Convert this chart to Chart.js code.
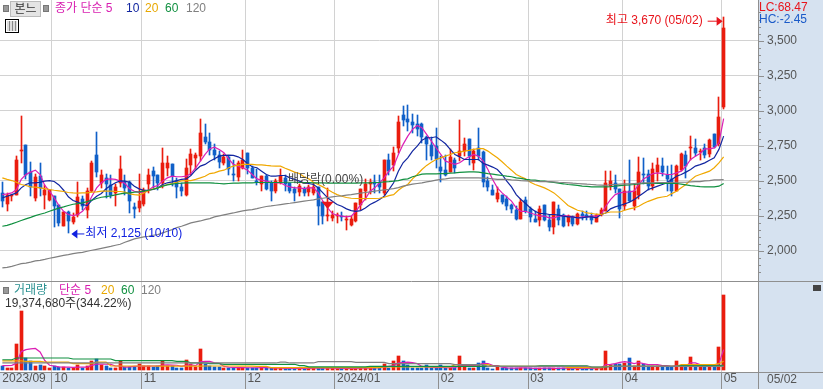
<!DOCTYPE html>
<html>
<head>
<meta charset="utf-8">
<script src="https://cdn.jsdelivr.net/npm/chart.js@4"></script>
<style>
  html, body { margin: 0; padding: 0; background: #fff; overflow: hidden; }
  #wrap { position: relative; width: 823px; height: 389px; font: 12px "Liberation Sans", "Noto Sans CJK KR", sans-serif; }
  canvas { position: absolute; left: 0; display: block; }
  #priceChart { top: 0; }
  #volChart { top: 281px; }
  .t { position: absolute; line-height: 14px; white-space: pre; }
  .sq { position: absolute; width: 4px; height: 5px; background: #999; border: 1px solid #777; }
  #btn { position: absolute; left: 10px; top: 1px; width: 29px; height: 14px; background: #e4e4e4; border: 1px solid #bbb; text-align: center; line-height: 14px; color: #333; }
  #tbl { position: absolute; left: 5px; top: 19px; width: 10px; height: 10px; border: 1px solid #000; padding: 1px;
         background: repeating-linear-gradient(90deg, #888 0 1px, #ddd 1px 3px); background-clip: content-box; outline: 0; }
  #zoomBox { position: absolute; left: 813px; top: 285px; width: 8px; height: 6px; background: #444; }
</style>
</head>
<body>
<div id="wrap">
  <canvas id="priceChart" width="823" height="281"></canvas>
  <canvas id="volChart" width="823" height="108"></canvas>

  <div class="sq" style="left:3px;top:5px"></div>
  <div id="btn">본느</div>
  <div class="sq" style="left:43px;top:5px"></div>
  <div id="tbl"></div>
  <div class="t" style="left:55px;top:1px;color:#d81eb0">종가 단순 5</div>
  <div class="t" style="left:126px;top:1px;color:#1226a0">10</div>
  <div class="t" style="left:145px;top:1px;color:#e8a800">20</div>
  <div class="t" style="left:165px;top:1px;color:#109040">60</div>
  <div class="t" style="left:186px;top:1px;color:#808080">120</div>
  <div class="t" style="left:759px;top:0px;color:#e8141c">LC:68.47</div>
  <div class="t" style="left:759px;top:12px;color:#1a5ac8">HC:-2.45</div>

  <div class="sq" style="left:3px;top:287px"></div>
  <div class="t" style="left:14px;top:283px;color:#2a9090">거래량</div>
  <div class="t" style="left:59px;top:283px;color:#d81eb0">단순 5</div>
  <div class="t" style="left:101px;top:283px;color:#e8a800">20</div>
  <div class="t" style="left:121px;top:283px;color:#109040">60</div>
  <div class="t" style="left:141px;top:283px;color:#808080">120</div>
  <div class="t" style="left:5px;top:296px;color:#333">19,374,680주(344.22%)</div>
  <div class="t" style="left:767px;top:372px;color:#555">05/02</div>
  <div id="zoomBox"></div>
</div>

<script>
// categories: one slot per trading day, the last few are empty space on the right
const slotCount = 161;
const monthStarts = [0, 11, 30, 52, 71, 93, 112, 132, 153];
const monthLabels = ["2023/09", "10", "11", "12", "2024/01", "02", "03", "04", "05"];

// candles
const opens = [
  2414,2338,2393,2402,2710,2752,2562,2381,2538,2402,
  2360,2390,2326,2176,2281,2205,2260,2371,2295,2426,
  2681,2481,2517,2467,2410,2486,2493,2493,2312,2307,
  2338,2474,2569,2545,2481,2593,2617,2498,2457,2402,
  2610,2660,2676,2814,2779,2717,2681,2624,2671,2552,
  2526,2588,2700,2593,2502,2474,2538,2481,2426,2490,
  2521,2481,2445,2419,2445,2419,2410,2457,2348,2250,
  2238,2248,2250,2219,2188,2212,2326,2426,2474,2493,
  2486,2410,2645,2612,2736,2967,2938,2921,2902,2902,
  2814,2752,2748,2600,2574,2562,2648,2676,2712,2795,
  2624,2736,2705,2498,2433,2374,2398,2374,2329,2295,
  2231,2362,2300,2231,2219,2329,2224,2169,2302,2260,
  2205,2243,2195,2267,2255,2252,2205,2264,2283,2466,
  2481,2443,2324,2431,2324,2402,2547,2552,2462,2566,
  2605,2545,2516,2426,2574,2683,2731,2736,2709,2731,
  2693,2831,2759,3026
];
const highs = [
  2490,2414,2402,2676,2962,2752,2633,2552,2629,2467,
  2438,2390,2331,2281,2283,2271,2495,2390,2450,2638,
  2850,2576,2550,2545,2474,2676,2545,2498,2343,2552,
  2450,2581,2600,2545,2731,2676,2617,2521,2486,2657,
  2729,2700,2938,2902,2843,2760,2712,2688,2676,2652,
  2640,2717,2700,2605,2581,2538,2545,2498,2510,2581,
  2545,2486,2455,2474,2455,2467,2486,2457,2348,2450,
  2283,2271,2279,2248,2252,2343,2443,2510,2510,2545,
  2545,2652,2688,2740,2962,3033,3038,2974,2967,2914,
  2819,2814,2879,2676,2681,2724,2664,2931,2807,2795,
  2729,2879,2712,2529,2467,2455,2402,2390,2338,2319,
  2367,2386,2314,2288,2324,2329,2260,2352,2331,2264,
  2260,2248,2271,2283,2283,2271,2267,2307,2569,2569,
  2545,2443,2509,2652,2474,2669,2664,2576,2628,2664,
  2664,2609,2616,2612,2695,2712,2819,2795,2724,2766,
  2795,2831,3095,3670
];
const lows = [
  2312,2288,2355,2402,2624,2510,2390,2355,2390,2300,
  2355,2169,2176,2176,2125,2195,2240,2295,2233,2419,
  2526,2450,2379,2379,2324,2457,2402,2271,2236,2276,
  2324,2414,2443,2438,2450,2533,2462,2379,2390,2395,
  2545,2581,2640,2764,2681,2648,2588,2612,2541,2498,
  2502,2581,2552,2521,2467,2426,2438,2355,2410,2474,
  2426,2414,2355,2390,2395,2395,2398,2188,2195,2212,
  2217,2200,2212,2152,2181,2205,2295,2362,2407,2414,
  2414,2402,2545,2569,2695,2890,2855,2843,2819,2771,
  2648,2648,2593,2490,2533,2562,2557,2640,2676,2612,
  2576,2652,2457,2426,2398,2348,2338,2295,2271,2219,
  2231,2271,2205,2205,2176,2212,2141,2124,2188,2171,
  2176,2181,2188,2219,2224,2195,2205,2252,2283,2438,
  2414,2235,2290,2347,2290,2374,2474,2433,2438,2497,
  2533,2426,2390,2426,2569,2521,2647,2676,2647,2664,
  2671,2736,2748,3010
];
const closes = [
  2355,2402,2400,2645,2717,2545,2457,2524,2452,2433,
  2433,2324,2200,2281,2217,2243,2386,2324,2431,2629,
  2562,2545,2474,2402,2457,2586,2450,2355,2302,2355,
  2433,2545,2538,2481,2624,2624,2533,2455,2426,2593,
  2693,2681,2838,2776,2717,2681,2633,2671,2581,2540,
  2624,2645,2593,2521,2493,2538,2445,2426,2502,2538,
  2474,2426,2410,2462,2410,2457,2457,2319,2252,2260,
  2260,2255,2243,2231,2231,2343,2443,2479,2493,2474,
  2455,2645,2569,2700,2919,2933,2919,2898,2871,2812,
  2760,2676,2657,2569,2545,2669,2593,2710,2764,2676,
  2712,2676,2490,2455,2402,2410,2348,2324,2302,2231,
  2350,2283,2243,2205,2302,2219,2171,2352,2224,2181,
  2248,2195,2267,2250,2243,2219,2255,2295,2486,2502,
  2445,2302,2431,2355,2431,2566,2540,2462,2581,2616,
  2562,2516,2426,2605,2688,2609,2740,2695,2716,2681,
  2793,2740,2957,3588
];

// price moving averages
const ma5 = [
  2402,2407,2414,2438,2510,2545,2562,2576,2545,2467,
  2426,2378,2324,2283,2260,2252,2260,2283,2324,2390,
  2450,2486,2510,2514,2510,2498,2481,2443,2426,2419,
  2414,2433,2457,2467,2498,2521,2533,2529,2529,2533,
  2552,2593,2640,2688,2729,2740,2724,2700,2657,2617,
  2605,2593,2576,2545,2514,2505,2498,2490,2486,2486,
  2467,2457,2450,2450,2445,2450,2450,2414,2355,2307,
  2267,2255,2248,2243,2248,2283,2331,2371,2426,2450,
  2486,2521,2569,2605,2688,2760,2819,2867,2895,2879,
  2831,2783,2736,2688,2640,2629,2617,2629,2652,2671,
  2688,2676,2640,2581,2510,2450,2414,2386,2355,2307,
  2283,2283,2271,2260,2248,2248,2236,2236,2248,2252,
  2248,2243,2236,2243,2243,2248,2248,2260,2319,2366,
  2402,2414,2419,2421,2426,2474,2514,2533,2552,2557,
  2552,2545,2545,2557,2569,2605,2652,2676,2695,2728,
  2728,2735,2771,2943
];
const ma10 = [
  2379,2390,2402,2414,2450,2474,2486,2486,2490,2498,
  2502,2495,2471,2433,2386,2360,2348,2331,2324,2362,
  2390,2410,2443,2467,2486,2500,2498,2490,2462,2443,
  2433,2433,2438,2450,2474,2486,2493,2502,2510,2514,
  2538,2576,2605,2617,2640,2657,2676,2681,2683,2681,
  2671,2652,2624,2600,2593,2569,2545,2533,2533,2538,
  2538,2521,2510,2498,2486,2481,2474,2450,2414,2379,
  2355,2331,2319,2300,2288,2283,2288,2307,2331,2348,
  2367,2390,2438,2486,2569,2629,2664,2712,2748,2790,
  2807,2807,2814,2790,2764,2724,2688,2671,2652,2652,
  2652,2652,2624,2612,2598,2581,2545,2498,2457,2402,
  2367,2338,2307,2283,2267,2267,2260,2260,2255,2248,
  2243,2243,2236,2236,2243,2243,2236,2260,2271,2300,
  2314,2324,2336,2347,2366,2390,2414,2438,2450,2462,
  2474,2486,2509,2533,2545,2562,2581,2605,2616,2628,
  2647,2664,2724,2819
];
const ma20 = [
  2521,2510,2502,2490,2474,2467,2457,2455,2450,2445,
  2438,2433,2429,2424,2417,2414,2412,2414,2414,2419,
  2421,2426,2426,2426,2424,2424,2419,2407,2402,2398,
  2414,2431,2443,2450,2462,2474,2481,2490,2500,2502,
  2502,2510,2521,2533,2552,2557,2569,2576,2593,2605,
  2612,2617,2617,2617,2614,2614,2610,2607,2605,2605,
  2590,2576,2562,2552,2529,2514,2490,2474,2457,2438,
  2419,2402,2390,2381,2376,2374,2374,2374,2374,2374,
  2376,2383,2395,2402,2433,2457,2474,2514,2545,2581,
  2610,2633,2652,2664,2676,2688,2700,2705,2712,2717,
  2724,2729,2729,2712,2688,2664,2636,2605,2576,2545,
  2529,2514,2490,2474,2462,2450,2433,2414,2386,2355,
  2324,2307,2290,2283,2271,2267,2262,2260,2271,2278,
  2278,2278,2290,2300,2307,2319,2338,2354,2366,2378,
  2385,2390,2409,2426,2450,2474,2505,2533,2545,2557,
  2569,2593,2628,2671
];
const ma60 = [
  2176,2183,2193,2205,2217,2229,2240,2252,2262,2271,
  2283,2295,2305,2314,2324,2333,2338,2343,2352,2362,
  2374,2383,2388,2393,2400,2407,2412,2414,2419,2421,
  2426,2433,2440,2450,2462,2471,2476,2481,2483,2486,
  2486,2486,2486,2486,2486,2483,2481,2479,2481,2483,
  2483,2486,2486,2486,2488,2488,2488,2488,2488,2488,
  2490,2490,2490,2488,2488,2488,2486,2486,2486,2483,
  2483,2483,2483,2483,2483,2483,2486,2486,2486,2488,
  2488,2493,2495,2498,2502,2510,2514,2529,2538,2548,
  2550,2550,2550,2552,2552,2555,2557,2560,2562,2564,
  2564,2562,2557,2552,2548,2543,2538,2533,2529,2521,
  2517,2510,2507,2505,2500,2498,2493,2488,2483,2479,
  2474,2471,2467,2462,2460,2457,2457,2457,2457,2459,
  2462,2466,2469,2471,2474,2478,2481,2481,2481,2481,
  2481,2481,2481,2481,2476,2471,2466,2462,2459,2457,
  2457,2457,2462,2481
];
const ma120 = [
  1879,1883,1890,1900,1910,1914,1921,1929,1933,1940,
  1948,1955,1962,1969,1974,1981,1986,1990,1998,2005,
  2012,2019,2026,2033,2041,2048,2062,2074,2086,2093,
  2100,2105,2112,2117,2129,2141,2152,2167,2176,2188,
  2200,2207,2214,2224,2231,2243,2250,2257,2264,2271,
  2279,2286,2291,2295,2302,2310,2317,2321,2326,2331,
  2336,2340,2345,2350,2355,2360,2364,2371,2376,2381,
  2386,2390,2393,2398,2402,2407,2412,2417,2421,2426,
  2431,2436,2440,2445,2452,2462,2469,2476,2481,2486,
  2493,2498,2505,2510,2514,2519,2521,2521,2521,2521,
  2521,2521,2519,2517,2514,2510,2510,2510,2507,2505,
  2502,2500,2498,2498,2495,2495,2495,2493,2490,2488,
  2486,2483,2481,2479,2476,2474,2471,2469,2467,2474,
  2474,2476,2478,2478,2481,2483,2486,2486,2486,2488,
  2488,2488,2488,2490,2490,2490,2493,2495,2495,2500,
  2502,2507,2507,2509
];

// volume in thousands of shares
const volumes = [
  1030,600,600,6670,15130,3250,2390,1030,1280,1030,
  600,1030,855,855,600,680,1370,680,1030,2390,
  2820,1370,1030,600,600,2310,855,855,855,1710,
  1030,1030,855,1030,2390,1110,1030,680,680,2565,
  1540,770,5390,1540,1030,855,770,680,600,680,
  680,680,600,680,680,855,600,600,550,600,
  500,550,600,550,500,600,550,700,650,600,
  550,600,500,550,600,500,550,650,600,550,
  600,1710,510,2310,3590,2310,1280,680,680,680,
  1280,600,600,1280,600,600,680,3590,855,680,
  680,1970,2310,680,430,1030,600,650,600,600,
  680,600,600,550,650,600,600,650,700,600,
  600,550,650,600,600,550,600,650,4870,1450,
  1710,1540,1880,3080,1030,2310,1540,1030,1030,1200,
  860,860,860,2310,1110,860,3330,860,800,800,
  900,800,5900,19375
];
const volMa5 = [
  1200,1200,1280,1800,4800,5300,5500,5600,4700,2500,
  1300,1100,900,800,800,750,800,800,800,1250,
  1600,1600,1550,1500,1100,1100,800,900,1000,1050,
  1050,1050,1100,1100,1350,1400,1350,1300,1000,1250,
  1400,1200,2200,2300,2300,1900,1800,1000,800,750,
  700,680,650,650,650,700,700,600,550,520,
  500,500,500,520,500,500,520,550,600,550,
  520,500,520,500,500,500,520,550,550,600,
  650,800,1000,1200,1900,2000,2100,2000,1700,1000,
  900,800,700,800,700,650,650,1200,1200,1200,
  1200,1400,1800,1700,1300,1200,800,600,550,550,
  600,600,550,500,500,550,550,500,500,550,
  550,500,500,500,500,500,550,600,1450,1500,
  1700,2050,2200,2050,1700,2000,1700,1450,1450,1450,
  1200,1200,1030,1200,1200,1200,1880,1880,1500,1030,
  1030,1030,1700,5300
];
const volMa20 = [
  2400,2400,2400,2400,2400,2300,2300,2300,2300,2100,
  2100,2100,2100,2100,2100,1700,1700,1700,1700,1700,
  2100,2100,2100,1100,1100,1100,1100,1100,1100,1100,
  1100,1100,1100,1050,1050,1050,1050,1050,1050,1050,
  1050,1050,1050,1100,1100,1100,1100,1100,1100,1100,
  1050,1050,1050,1050,1000,1000,1000,700,700,700,
  700,700,700,700,700,700,700,700,700,700,
  700,700,700,700,700,700,700,700,700,700,
  700,850,850,850,850,850,850,850,850,850,
  850,850,850,850,850,850,1450,1450,1450,1450,
  1450,1450,1450,1450,1000,1000,1000,1000,1000,1000,
  1000,1000,1000,1000,1000,1000,1000,1000,1000,1000,
  680,680,680,680,680,680,680,680,1000,1000,
  1000,1000,1000,1000,1000,1000,1000,1000,1000,1000,
  1000,1000,1000,1000,1450,1450,1450,1450,1450,1450,
  1450,1450,1700,2300
];
const volMa60 = [
  2700,2700,2700,3150,3150,3150,3150,3150,3150,3150,
  3150,3150,3150,3150,3150,2900,2900,2900,2900,2900,
  2900,2900,2900,2900,2480,2480,2480,2480,2480,2480,
  2480,2480,2480,2480,2480,2480,2480,2300,2300,2300,
  1900,1900,1900,1900,1700,1700,1700,1540,1540,1540,
  1540,1540,1540,1540,1540,1540,1540,1540,1540,1540,
  1540,1540,1540,1200,1200,900,900,900,900,900,
  900,900,900,900,900,900,900,900,1000,1000,
  1000,1000,1000,1000,1000,1000,1000,1000,1000,1000,
  1000,1000,1000,1000,1000,1000,1000,1000,1000,1000,
  1000,1000,1000,1000,1000,1000,1000,1000,1000,1000,
  1000,1000,1000,1000,1150,1150,1150,1150,1150,1150,
  1150,1150,1150,1150,1150,850,850,850,850,1030,
  1030,1030,1030,1030,1030,1030,1030,1030,1030,1030,
  1030,1030,1030,1030,1200,1200,1200,1200,1200,1200,
  1200,1200,1200,1300
];
const volMa120 = [
  1880,1880,1880,1880,1880,1880,1880,1880,1880,1880,
  1880,1880,1880,1880,1880,1880,1880,1880,1880,1880,
  1880,1880,1880,1880,1880,1880,1880,1880,1880,1880,
  1880,1880,1880,1880,1880,1880,1880,1880,1880,1880,
  1880,1880,1880,1880,1880,1880,1880,1880,1880,1880,
  1880,1880,1880,1880,1880,1880,1880,1880,1880,2100,
  2100,1880,1880,1880,1880,1880,1880,2200,2200,2200,
  2200,2200,2200,2200,2200,2050,2050,2050,2050,2050,
  2050,2050,1710,1710,1710,1710,1710,1710,1710,1710,
  1710,1710,1710,1710,1710,1710,1450,1450,1450,1450,
  1450,1450,1450,1030,1030,1030,1030,1030,1030,1030,
  1030,1030,1030,1030,1030,1030,1030,1030,1030,1030,
  1030,1030,1030,1030,1030,850,850,850,850,1030,
  1030,1030,1030,1030,1030,1030,1030,1030,1030,1030,
  1030,1030,1030,1030,1030,1030,1030,1030,1030,1030,
  1030,1030,1030,1030
];

// annotations
const highNote = { text: "최고 3,670 (05/02)", index: 153, value: 3670 };
const lowNote = { text: "최저 2,125 (10/10)", index: 14, value: 2125 };
const exNote = { text: "배당락(0.00%)", index: 69, value: 2330 };

const UP = "#ea1c0e";
const DOWN = "#1060c8";
const GRID = "#d2d2d2";
const AXIS = "#8f8f8f";
const PANEL = "#d6e2f0";
const FONT = '"Liberation Sans", "Noto Sans CJK KR", sans-serif';
const PLOT_RIGHT = 758;

const slots = [];
for (let i = 0; i < slotCount; i++) slots.push(i);

const candleColors = closes.map((c, i) => (c >= opens[i] ? UP : DOWN));

function isMonthLine(i) {
  return i > 0 && monthStarts.includes(i);
}

function lineSet(data, color) {
  return { type: "line", data: data, borderColor: color, borderWidth: 1.2, pointRadius: 0, tension: 0, order: 1 };
}

// y axis sits flush, no room kept for half a tick label
function fitYAxis(s) {
  s.width = 64;
  s.paddingTop = 0;
  s.paddingBottom = 0;
}

// line the bars up on whole pixels so they stay crisp
const snapBars = {
  id: "snapBars",
  beforeDatasetsDraw(chart) {
    chart.data.datasets.forEach((ds, k) => {
      if (ds.type === "line") return;
      chart.getDatasetMeta(k).data.forEach((bar) => {
        bar.x = Math.floor(bar.x) + 0.5;
        const top = Math.round(bar.y);
        let base = Math.round(bar.base);
        if (Math.abs(base - top) < 1) base = top + 1;
        bar.y = top;
        bar.base = base;
      });
    });
  }
};

// paints the blue axis panels, the axis border and its tick marks
function frame(bandHeight, majorStep, minorStep) {
  return {
    id: "frame",
    beforeDraw(chart) {
      const ctx = chart.ctx;
      ctx.save();
      ctx.fillStyle = PANEL;
      ctx.fillRect(PLOT_RIGHT, 0, chart.width - PLOT_RIGHT, chart.height);
      if (bandHeight) ctx.fillRect(0, chart.height - bandHeight, chart.width, bandHeight);
      ctx.restore();
    },
    afterDraw(chart) {
      const ctx = chart.ctx;
      const y = chart.scales.y;
      ctx.save();
      ctx.strokeStyle = AXIS;
      ctx.lineWidth = 1;
      ctx.beginPath();
      ctx.moveTo(PLOT_RIGHT + 0.5, 0);
      ctx.lineTo(PLOT_RIGHT + 0.5, chart.height);
      y.ticks.forEach((t) => {
        if (t.value % minorStep !== 0) return;
        const py = Math.round(y.getPixelForValue(t.value)) + 0.5;
        ctx.moveTo(PLOT_RIGHT, py);
        ctx.lineTo(PLOT_RIGHT + (t.value % majorStep === 0 ? 6 : 3), py);
      });
      if (bandHeight) {
        const by = chart.height - bandHeight + 0.5;
        ctx.moveTo(0, by);
        ctx.lineTo(chart.width, by);
        ctx.moveTo(0, 0.5);
        ctx.lineTo(chart.width, 0.5);
      }
      ctx.stroke();
      ctx.restore();
    }
  };
}

// arrows and labels hung on the price scale
const notes = {
  id: "notes",
  afterDatasetsDraw(chart) {
    const ctx = chart.ctx;
    const x = chart.scales.x;
    const y = chart.scales.y;
    ctx.save();
    ctx.font = "12px " + FONT;
    ctx.textBaseline = "middle";

    // high
    let px = x.getPixelForValue(highNote.index);
    let py = y.getPixelForValue(highNote.value) + 4;
    ctx.fillStyle = "#e8141c";
    ctx.strokeStyle = "#e8141c";
    ctx.textAlign = "right";
    ctx.fillText(highNote.text, px - 21, py);
    ctx.beginPath();
    ctx.moveTo(px - 16, py + 0.5);
    ctx.lineTo(px - 6, py + 0.5);
    ctx.stroke();
    ctx.beginPath();
    ctx.moveTo(px - 1, py + 0.5);
    ctx.lineTo(px - 7, py - 4);
    ctx.lineTo(px - 7, py + 5);
    ctx.fill();

    // low
    px = x.getPixelForValue(lowNote.index);
    py = y.getPixelForValue(lowNote.value);
    ctx.fillStyle = "#1020e0";
    ctx.strokeStyle = "#1020e0";
    ctx.textAlign = "left";
    ctx.fillText(lowNote.text, px + 17, py);
    ctx.beginPath();
    ctx.moveTo(px + 8, py + 0.5);
    ctx.lineTo(px + 16, py + 0.5);
    ctx.stroke();
    ctx.beginPath();
    ctx.moveTo(px + 3, py + 0.5);
    ctx.lineTo(px + 9, py - 4);
    ctx.lineTo(px + 9, py + 5);
    ctx.fill();

    // ex-dividend
    px = x.getPixelForValue(exNote.index);
    py = y.getPixelForValue(exNote.value);
    ctx.fillStyle = "#e8141c";
    ctx.beginPath();
    ctx.moveTo(px - 6, py - 3);
    ctx.lineTo(px + 6, py - 3);
    ctx.lineTo(px, py + 4);
    ctx.fill();
    ctx.fillStyle = "#444";
    ctx.textAlign = "left";
    ctx.fillText(exNote.text, 288, 180);
    ctx.restore();
  }
};

const xGrid = {
  offset: true,
  drawTicks: false,
  color: (c) => (isMonthLine(c.index) ? GRID : "transparent")
};

new Chart(document.getElementById("priceChart"), {
  type: "bar",
  data: {
    labels: slots,
    datasets: [
      lineSet(ma120, "#808080"),
      lineSet(ma60, "#109040"),
      lineSet(ma20, "#f0a800"),
      lineSet(ma10, "#1226a0"),
      lineSet(ma5, "#dc1eb4"),
      { data: highs.map((h, i) => [lows[i], h]), backgroundColor: candleColors, barThickness: 1, order: 3, grouped: false },
      { data: opens.map((o, i) => [o, closes[i]]), backgroundColor: candleColors, barThickness: 3, order: 2, grouped: false }
    ]
  },
  options: {
    responsive: false,
    animation: false,
    layout: { padding: 0 },
    plugins: { legend: { display: false }, tooltip: { enabled: false } },
    scales: {
      x: {
        offset: true,
        grid: xGrid,
        border: { display: false },
        ticks: { display: false, autoSkip: false, maxRotation: 0 },
        afterFit: (s) => { s.height = 0; }
      },
      y: {
        position: "right",
        min: 1786,
        max: 3789,
        border: { display: false },
        grid: {
          drawTicks: false,
          color: (c) => (c.tick && c.tick.value % 250 === 0 ? GRID : "transparent")
        },
        ticks: {
          stepSize: 50,
          autoSkip: false,
          padding: 8,
          color: "#555",
          font: { family: FONT, size: 12 },
          callback: (v) => (v % 250 === 0 ? v.toLocaleString("en-US") : "")
        },
        afterFit: fitYAxis
      }
    }
  },
  plugins: [frame(0, 250, 50), snapBars, notes]
});

new Chart(document.getElementById("volChart"), {
  type: "bar",
  data: {
    labels: slots,
    datasets: [
      lineSet(volMa120, "#808080"),
      lineSet(volMa60, "#109040"),
      lineSet(volMa20, "#f0a800"),
      lineSet(volMa5, "#dc1eb4"),
      { data: volumes, backgroundColor: candleColors, barThickness: 3, order: 2 }
    ]
  },
  options: {
    responsive: false,
    animation: false,
    layout: { padding: 0 },
    plugins: { legend: { display: false }, tooltip: { enabled: false } },
    scales: {
      x: {
        offset: true,
        border: { display: false },
        grid: {
          offset: true,
          tickLength: 17,
          color: (c) => (isMonthLine(c.index) ? GRID : "transparent"),
          tickColor: (c) => (isMonthLine(c.index) ? AXIS : "transparent")
        },
        ticks: {
          autoSkip: false,
          maxRotation: 0,
          align: "start",
          labelOffset: 0,
          padding: -18,
          color: "#555",
          font: { family: FONT, size: 12 },
          callback: (v, i) => {
            const k = monthStarts.indexOf(i);
            return k >= 0 ? monthLabels[k] : "";
          }
        },
        afterFit: (s) => { s.height = 17; s.paddingLeft = 0; s.paddingRight = 0; }
      },
      y: {
        position: "right",
        min: -436,
        max: 22897,
        border: { display: false },
        grid: {
          drawTicks: false,
          color: (c) => (c.tick && c.tick.value % 10000 === 0 && c.tick.value > 0 ? GRID : "transparent")
        },
        ticks: {
          stepSize: 2000,
          autoSkip: false,
          padding: 8,
          color: "#555",
          font: { family: FONT, size: 12 },
          callback: (v) => (v % 10000 === 0 && v > 0 ? v.toLocaleString("en-US") + "K" : "")
        },
        afterFit: fitYAxis
      }
    }
  },
  plugins: [frame(17, 10000, 2000), snapBars]
});
</script>
</body>
</html>
